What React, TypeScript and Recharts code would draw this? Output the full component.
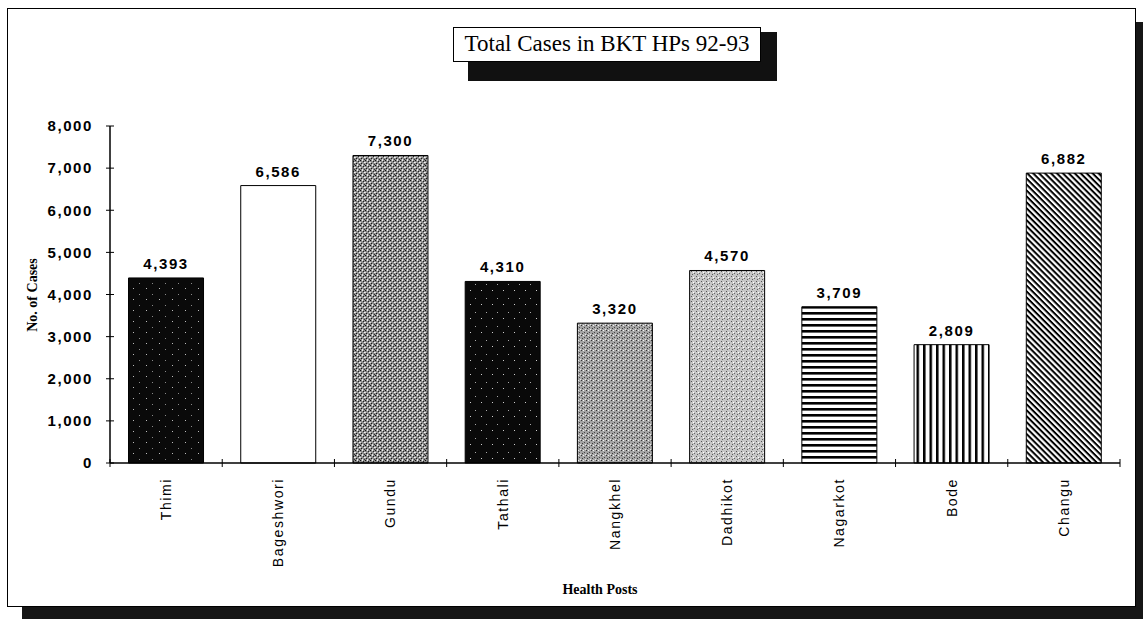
import React from 'react';
import { BarChart, Bar, XAxis, YAxis, Cell, LabelList } from 'recharts';

const categories = ['Thimi', 'Bageshwori', 'Gundu', 'Tathali', 'Nangkhel', 'Dadhikot', 'Nagarkot', 'Bode', 'Changu'];
const totalCases = [4393, 6586, 7300, 4310, 3320, 4570, 3709, 2809, 6882];
const yTicks = [0, 1000, 2000, 3000, 4000, 5000, 6000, 7000, 8000];
const barFills = [
  'url(#pDark1)',
  '#ffffff',
  'url(#pGray1)',
  'url(#pDark2)',
  'url(#pGray2)',
  'url(#pGray3)',
  'url(#pHoriz)',
  'url(#pVert)',
  'url(#pDiag)',
];

const chartTitle = 'Total Cases in BKT HPs 92-93';
const yTitle = 'No. of Cases';
const xTitle = 'Health Posts';

const data = categories.map((name, i) => ({ name, cases: totalCases[i] }));

const fmt = (v: number) => Number(v).toLocaleString('en-US');

const sansFont = 'Arial, "Liberation Sans", Helvetica, sans-serif';
const serifFont = '"Times New Roman", "Liberation Serif", Times, serif';

const XTick = (props: any) => {
  const { x, y, payload, index } = props;
  const half = payload && payload.offset ? payload.offset : 0;
  const last = index === categories.length - 1;
  return (
    <g>
      <line x1={x - half} x2={x - half} y1={y - 4} y2={y + 4} stroke="#000" strokeWidth={1} />
      {last ? <line x1={x + half} x2={x + half} y1={y - 4} y2={y + 4} stroke="#000" strokeWidth={1} /> : null}
      <text
        x={x}
        y={y + 15}
        transform={`rotate(-90, ${x}, ${y + 15})`}
        textAnchor="end"
        dy="0.35em"
        style={{ fontFamily: sansFont, fontSize: 14, letterSpacing: 1.6, fill: '#000' }}
      >
        {payload.value}
      </text>
    </g>
  );
};

const YTick = (props: any) => {
  const { x, y, payload } = props;
  return (
    <text
      x={x}
      y={y}
      textAnchor="end"
      dy="0.35em"
      style={{ fontFamily: sansFont, fontSize: 15, fontWeight: 700, letterSpacing: 1.6, fill: '#000' }}
    >
      {fmt(payload.value)}
    </text>
  );
};

const ValueLabel = (props: any) => {
  const { x, y, width, value } = props;
  return (
    <text
      x={x + width / 2}
      y={y - 9}
      textAnchor="middle"
      style={{ fontFamily: sansFont, fontSize: 15, fontWeight: 700, letterSpacing: 1.6, fill: '#000' }}
    >
      {fmt(value)}
    </text>
  );
};

export default function App() {
  return (
    <div style={{ position: 'absolute', left: 0, top: 0, width: 1143, height: 619, background: '#fff', overflow: 'hidden' }}>
      <div style={{ position: 'absolute', left: 22, top: 22, width: 1121, height: 597, background: '#161616' }} />
      <div
        style={{
          position: 'absolute',
          left: 7,
          top: 8,
          width: 1129,
          height: 599,
          boxSizing: 'border-box',
          border: '1.5px solid #000',
          background: '#fff',
        }}
      />
      <div style={{ position: 'absolute', left: 0, top: 0 }}>
        <BarChart
          width={1143}
          height={619}
          data={data}
          margin={{ top: 126, right: 23, left: 10, bottom: 155 }}
          barCategoryGap="16.5%"
        >
          <defs>
            <pattern id="pDark1" width="13" height="11" patternUnits="userSpaceOnUse">
              <rect width="13" height="11" fill="#0a0a0a" />
              <rect x="3" y="2" width="1" height="1" fill="#bdbdbd" />
              <rect x="9" y="8" width="1" height="1" fill="#8a8a8a" />
            </pattern>
            <pattern id="pDark2" width="11" height="14" patternUnits="userSpaceOnUse">
              <rect width="11" height="14" fill="#090909" />
              <rect x="2" y="4" width="1" height="1" fill="#a8a8a8" />
              <rect x="8" y="10" width="1" height="1" fill="#cfcfcf" />
            </pattern>
            <pattern id="pGray1" width="5" height="5" patternUnits="userSpaceOnUse">
              <rect width="5" height="5" fill="#8c8c8c" />
              <rect x="0" y="0" width="1" height="1" fill="#111" />
              <rect x="3" y="1" width="1" height="1" fill="#222" />
              <rect x="1" y="3" width="1" height="1" fill="#1a1a1a" />
              <rect x="4" y="4" width="1" height="1" fill="#333" />
              <rect x="2" y="0" width="1" height="1" fill="#eee" />
              <rect x="0" y="2" width="1" height="1" fill="#ddd" />
              <rect x="4" y="2" width="1" height="1" fill="#f2f2f2" />
              <rect x="2" y="4" width="1" height="1" fill="#e6e6e6" />
            </pattern>
            <pattern id="pGray2" width="5" height="5" patternUnits="userSpaceOnUse">
              <rect width="5" height="5" fill="#a3a3a3" />
              <rect x="1" y="0" width="1" height="1" fill="#333" />
              <rect x="4" y="2" width="1" height="1" fill="#444" />
              <rect x="2" y="3" width="1" height="1" fill="#3a3a3a" />
              <rect x="3" y="0" width="1" height="1" fill="#f0f0f0" />
              <rect x="0" y="4" width="1" height="1" fill="#e8e8e8" />
            </pattern>
            <pattern id="pGray3" width="5" height="5" patternUnits="userSpaceOnUse">
              <rect width="5" height="5" fill="#c6c6c6" />
              <rect x="1" y="1" width="1" height="1" fill="#555" />
              <rect x="4" y="3" width="1" height="1" fill="#666" />
              <rect x="2" y="4" width="1" height="1" fill="#5a5a5a" />
              <rect x="3" y="2" width="1" height="1" fill="#fff" />
            </pattern>
            <pattern id="pHoriz" width="8" height="6" patternUnits="userSpaceOnUse">
              <rect width="8" height="6" fill="#fff" />
              <rect x="0" y="0" width="8" height="2.6" fill="#000" />
            </pattern>
            <pattern id="pVert" width="6.5" height="8" patternUnits="userSpaceOnUse">
              <rect width="6.5" height="8" fill="#fff" />
              <rect x="0" y="0" width="2.5" height="8" fill="#000" />
            </pattern>
            <pattern id="pDiag" width="8" height="4.2" patternUnits="userSpaceOnUse" patternTransform="rotate(45)">
              <rect width="8" height="4.2" fill="#fff" />
              <rect x="0" y="0" width="8" height="2" fill="#000" />
            </pattern>
          </defs>
          <XAxis
            dataKey="name"
            type="category"
            height={1}
            interval={0}
            axisLine={{ stroke: '#000', strokeWidth: 1.5 }}
            tickLine={false}
            tickSize={0}
            tickMargin={0}
            tick={<XTick />}
          />
          <YAxis
            type="number"
            width={100}
            domain={[0, 8000]}
            ticks={yTicks}
            interval={0}
            axisLine={{ stroke: '#000', strokeWidth: 1.5 }}
            tickLine={{ stroke: '#000', transform: 'translate(4,0)' }}
            tickSize={8}
            tickMargin={9}
            tick={<YTick />}
          />
          <Bar dataKey="cases" isAnimationActive={false} stroke="#000" strokeWidth={1}>
            {data.map((d, i) => (
              <Cell key={d.name} fill={barFills[i]} />
            ))}
            <LabelList dataKey="cases" content={<ValueLabel />} />
          </Bar>
        </BarChart>
      </div>
      <div style={{ position: 'absolute', left: 468, top: 32, width: 309, height: 49, background: '#111' }} />
      <div
        style={{
          position: 'absolute',
          left: 453,
          top: 27,
          width: 308,
          height: 35,
          boxSizing: 'border-box',
          border: '1.5px solid #000',
          background: '#fff',
          fontFamily: serifFont,
          fontSize: 23,
          lineHeight: '32px',
          textAlign: 'center',
          whiteSpace: 'nowrap',
          color: '#000',
        }}
      >
        {chartTitle}
      </div>
      <div
        style={{
          position: 'absolute',
          left: 33,
          top: 295,
          transform: 'translate(-50%, -50%) rotate(-90deg)',
          fontFamily: serifFont,
          fontSize: 14,
          fontWeight: 700,
          whiteSpace: 'nowrap',
          color: '#000',
        }}
      >
        {yTitle}
      </div>
      <div
        style={{
          position: 'absolute',
          left: 600,
          top: 590,
          transform: 'translate(-50%, -50%)',
          fontFamily: serifFont,
          fontSize: 14,
          fontWeight: 700,
          whiteSpace: 'nowrap',
          color: '#000',
        }}
      >
        {xTitle}
      </div>
    </div>
  );
}
